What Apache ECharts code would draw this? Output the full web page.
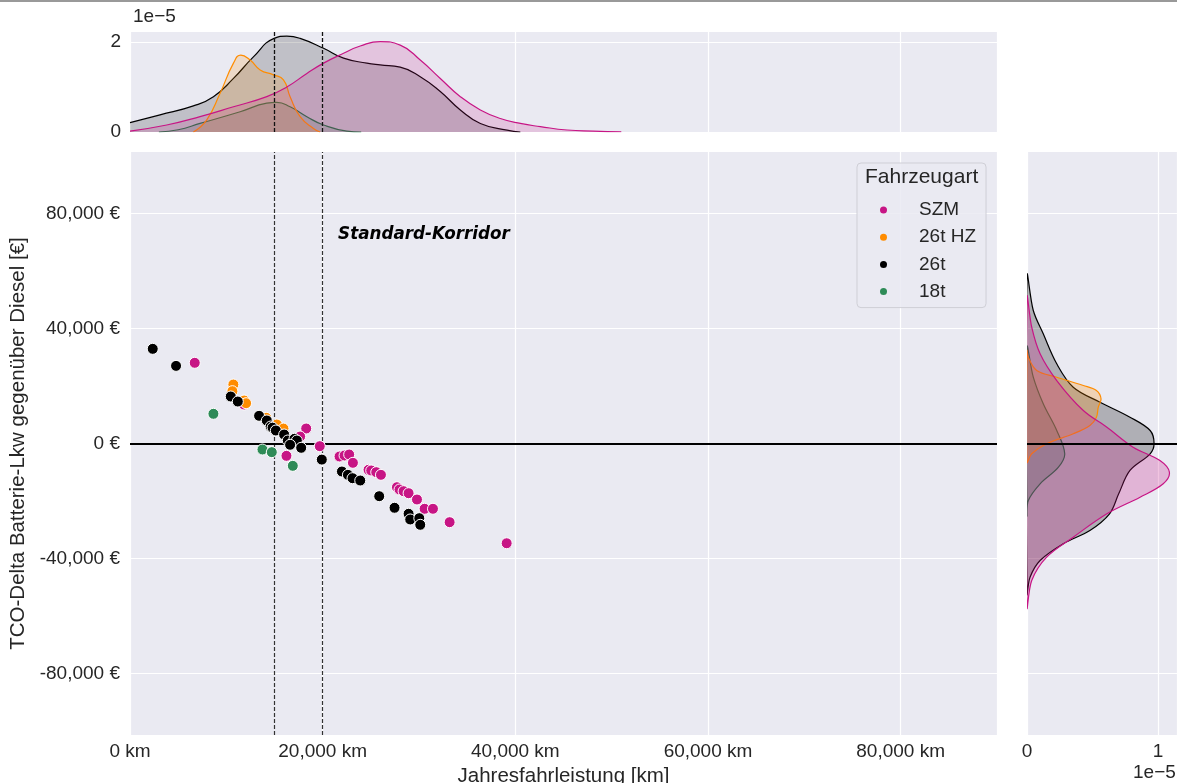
<!DOCTYPE html>
<html><head><meta charset="utf-8">
<script src="https://cdn.jsdelivr.net/npm/echarts@6/dist/echarts.min.js"></script>
<style>html,body{margin:0;padding:0;background:#fff}#c{width:1177px;height:783px}</style>
</head><body><div id="c"></div>
<script>
// ---------- data ----------
const categories = ['SZM', '26t HZ', '26t', '18t'];
const catColors = ['#c71585', '#ff8c00', '#000000', '#2e8b57'];

// scatter points: [Jahresfahrleistung km, TCO-Delta €]
const ptsSZM = [[6720,28070],[11850,13560],[18290,5220],[17660,2430],[16240,-4290],[19700,-930],
  [21750,-4520],[22270,-4170],[22750,-3830],[23140,-6720],[24760,-9150],[25040,-9390],[25560,-9970],
  [26050,-10900],[27710,-15200],[27980,-16000],[28400,-16590],[28920,-17290],[29790,-19480],
  [30580,-22710],[31450,-22710],[33180,-27370],[39100,-34700]];
const ptsHZ = [[10730,20520],[10630,18200],[11850,14960],[12050,14020],[14130,8940],[15240,6600],[15930,5200]];
const pts26 = [[2360,32930],[4780,27000],[10460,16350],[11190,14600],[13400,9630],[14200,8000],[14600,5900],
  [14800,5500],[15140,4520],[16000,3130],[16380,1040],[17070,1620],[17320,1040],[16620,-450],[17770,-1500],
  [19910,-5600],[22000,-9740],[22620,-10900],[23100,-12070],[23900,-12870],[25870,-18330],[27460,-22360],
  [28920,-24450],[29090,-26430],[30030,-25980],[30130,-28280]];
const pts18 = [[8660,10330],[13750,-2090],[14720,-3010],[16900,-7770]];

// top marginal KDE: [km, density in 1e-5]
const kdeTopSZM = [[0,0.02],[3810,0.155],[7270,0.34],[10740,0.56],[14200,0.785],[16280,1.0],[18360,1.3],
  [20090,1.53],[22170,1.75],[23900,1.91],[25970,2.01],[28050,1.93],[30130,1.6],[32210,1.19],[34290,0.785],
  [36370,0.49],[38440,0.30],[40520,0.19],[42600,0.12],[45370,0.044],[48100,0.02],[51000,0.005]];
const kdeTopHZ = [[6580,0],[7970,0.27],[9350,0.86],[10740,1.53],[11500,1.71],[12470,1.6],[13510,1.38],
  [14890,1.27],[15930,1.16],[16620,0.785],[17660,0.34],[19040,0.08],[19740,0]];
const kdeTop26 = [[0,0.21],[3120,0.38],[6580,0.58],[8660,0.785],[10740,1.19],[12810,1.67],[14960,2.08],
  [16280,2.13],[17660,2.08],[20090,1.86],[22170,1.64],[24590,1.53],[25970,1.49],[28050,1.44],[30130,1.23],
  [32210,0.90],[34290,0.49],[36370,0.19],[39140,0.04],[40520,0]];
const kdeTop18 = [[3000,0],[5000,0.05],[7270,0.19],[11430,0.45],[14200,0.64],[15240,0.66],[16620,0.56],
  [18360,0.34],[20090,0.155],[22510,0.02],[24000,0]];

// right marginal KDE: [density in 1e-5, €]
const kdeRightSZM = [[0,50900],[0.036,40450],[0.10,31200],[0.227,21910],[0.43,11480],[0.61,5670],[0.81,-1280],
  [1.015,-5910],[1.087,-9970],[1.04,-14020],[0.863,-18680],[0.61,-24450],[0.353,-32590],[0.15,-39550],
  [0.036,-47650],[0,-56930]];
const kdeRightHZ = [[0,32350],[0.01,30010],[0.074,25390],[0.227,23060],[0.43,20170],[0.53,18430],[0.565,15540],
  [0.544,12630],[0.53,9150],[0.48,6260],[0.353,3370],[0.15,-100],[0.036,-3580],[0,-6490]];
const kdeRight26 = [[0,58430],[0.048,46260],[0.124,38150],[0.227,27720],[0.353,19580],[0.557,14370],[0.786,9150],
  [0.94,4520],[0.97,-100],[0.94,-3580],[0.786,-9390],[0.70,-17500],[0.63,-24450],[0.48,-30260],[0.277,-34880],
  [0.10,-40690],[0.023,-46500],[0,-52300]];
const kdeRight18 = [[0,33490],[0.048,23060],[0.124,13810],[0.227,4520],[0.288,-3580],[0.24,-8240],[0.10,-14020],
  [0.01,-19820],[0,-25000]];

const xTicks = [0, 20000, 40000, 60000, 80000];
const yTicks = [-80000, -40000, 0, 40000, 80000];
const corridor = [15000, 20000];
const annotation = {text: 'Standard-Korridor', at: [21600, 72500]};

// ---------- chart ----------
const FONT = '"Liberation Sans", Arial, sans-serif';
const TXT = '#262626';
const BG = '#eaeaf2';
function rgba(hex, a) {
  const n = parseInt(hex.slice(1), 16);
  return 'rgba(' + ((n >> 16) & 255) + ',' + ((n >> 8) & 255) + ',' + (n & 255) + ',' + a + ')';
}
const fmtNum = v => (v < 0 ? '-' : '') + Math.abs(v).toLocaleString('en-US');

const scatterSets = [ptsSZM, ptsHZ, pts26, pts18];
const topSets = [kdeTopSZM, kdeTopHZ, kdeTop26, kdeTop18];
const rightSets = [kdeRightSZM, kdeRightHZ, kdeRight26, kdeRight18];

const series = [];
// main scatter (draw order: SZM, 18t, 26t HZ, 26t)
[0, 3, 1, 2].forEach(i => {
  series.push({
    type: 'scatter', name: categories[i], xAxisIndex: 0, yAxisIndex: 0,
    data: scatterSets[i], symbolSize: 11, z: 3,
    itemStyle: {color: catColors[i], borderColor: '#ffffff', borderWidth: 1, opacity: 1}
  });
});
// reference lines in main plot
series.push({
  type: 'scatter', name: 'refMain', xAxisIndex: 0, yAxisIndex: 0, data: [], silent: true,
  markLine: {
    symbol: 'none', silent: true, z: 1, animation: false, label: {show: false},
    data: [
      {xAxis: corridor[0], lineStyle: {color: '#333', width: 1.2, type: [4, 2]}},
      {xAxis: corridor[1], lineStyle: {color: '#333', width: 1.2, type: [4, 2]}},
      {yAxis: 0, lineStyle: {color: '#000', width: 2, type: 'solid'}}
    ]
  },
  markPoint: {
    symbol: 'circle', symbolSize: 0, silent: true, animation: false,
    data: [{coord: annotation.at, value: annotation.text}],
    label: {show: true, position: 'right', distance: 0, formatter: annotation.text,
      fontFamily: '"DejaVu Sans", sans-serif', fontWeight: 'bold', fontStyle: 'italic', fontSize: 16.8, color: '#000'}
  }
});
// top marginal KDEs (layer order: 18t, 26t, 26t HZ, SZM), strictly stacked
[3, 2, 1, 0].forEach((i, k) => {
  series.push({
    type: 'line', name: 'kdeTop-' + categories[i], xAxisIndex: 1, yAxisIndex: 1,
    data: topSets[i], smooth: 0.5, symbol: 'none', silent: true, z: 2 + k,
    lineStyle: {color: catColors[i], width: 1.2},
    areaStyle: {color: rgba(catColors[i], 0.25), origin: 'start'}
  });
});
series.push({
  type: 'scatter', name: 'refTop', xAxisIndex: 1, yAxisIndex: 1, data: [], silent: true,
  markLine: {
    symbol: 'none', silent: true, z: 10, animation: false, label: {show: false},
    data: [
      {xAxis: corridor[0], lineStyle: {color: '#111', width: 1.3, type: [4, 2]}},
      {xAxis: corridor[1], lineStyle: {color: '#111', width: 1.3, type: [4, 2]}}
    ]
  }
});
// right marginal KDEs
[3, 2, 1, 0].forEach((i, k) => {
  const pts = rightSets[i];
  series.push({
    type: 'custom', name: 'kdeRight-' + categories[i], xAxisIndex: 2, yAxisIndex: 2,
    data: pts, encode: {x: 0, y: 1}, clip: true, silent: true, z: 2 + k,
    renderItem: function (params, api) {
      if (params.dataIndex !== 0) return null;
      const p = pts.map(v => api.coord(v));
      return {
        type: 'polygon', shape: {points: p, smooth: 0.35},
        style: {fill: rgba(catColors[i], 0.25), stroke: catColors[i], lineWidth: 1.2}
      };
    }
  });
});
series.push({
  type: 'scatter', name: 'refRight', xAxisIndex: 2, yAxisIndex: 2, data: [], silent: true,
  markLine: {
    symbol: 'none', silent: true, z: 10, animation: false, label: {show: false},
    data: [{yAxis: 0, lineStyle: {color: '#000', width: 2, type: 'solid'}}]
  }
});

const splitW = {show: true, lineStyle: {color: '#ffffff', width: 1.2}};
const lbl = {color: TXT, fontFamily: FONT, fontSize: 19};

const option = {
  animation: false,
  backgroundColor: '#ffffff',
  grid: [
    {left: 130, top: 152, width: 867, height: 583, show: true, backgroundColor: BG, borderWidth: 0, outerBoundsMode: 'none'},
    {left: 130, top: 31, width: 867, height: 101, show: true, backgroundColor: BG, borderWidth: 0, outerBoundsMode: 'none'},
    {left: 1027, top: 152, width: 150, height: 583, show: true, backgroundColor: BG, borderWidth: 0, outerBoundsMode: 'none'}
  ],
  xAxis: [
    {type: 'value', gridIndex: 0, min: 0, max: 90000, interval: 20000,
      axisLine: {show: false}, axisTick: {show: false}, splitLine: splitW,
      axisLabel: Object.assign({margin: 7, showMaxLabel: false, formatter: v => fmtNum(v) + ' km'}, lbl),
      name: 'Jahresfahrleistung [km]', nameLocation: 'middle', nameGap: 27,
      nameTextStyle: {color: TXT, fontFamily: FONT, fontSize: 20.5}},
    {type: 'value', gridIndex: 1, min: 0, max: 90000, interval: 20000,
      axisLine: {show: false}, axisTick: {show: false}, splitLine: splitW, axisLabel: {show: false}},
    {type: 'value', gridIndex: 2, min: 0, max: 1.145, interval: 1,
      axisLine: {show: false}, axisTick: {show: false}, splitLine: splitW,
      axisLabel: Object.assign({margin: 7, showMaxLabel: false, formatter: v => String(Math.round(v))}, lbl)}
  ],
  yAxis: [
    {type: 'value', gridIndex: 0, min: -101400, max: 101400,
      axisLine: {show: false}, axisTick: {show: false, customValues: yTicks}, splitLine: splitW,
      axisLabel: Object.assign({margin: 10, customValues: yTicks, formatter: v => fmtNum(v) + ' €'}, lbl),
      name: 'TCO-Delta Batterie-Lkw gegenüber Diesel [€]', nameLocation: 'middle', nameGap: 100,
      nameTextStyle: {color: TXT, fontFamily: FONT, fontSize: 20.5}},
    {type: 'value', gridIndex: 1, min: 0, max: 2.244, interval: 2,
      axisLine: {show: false}, axisTick: {show: false}, splitLine: splitW,
      axisLabel: Object.assign({margin: 9, showMaxLabel: false, formatter: v => String(Math.round(v))}, lbl)},
    {type: 'value', gridIndex: 2, min: -101400, max: 101400,
      axisLine: {show: false}, axisTick: {show: false, customValues: yTicks}, splitLine: splitW,
      axisLabel: {show: false, customValues: yTicks}}
  ],
  legend: {
    data: categories, orient: 'vertical', left: 857, top: 163,
    padding: [37, 10, 6, 23], itemGap: 7.2, itemWidth: 7, itemHeight: 7, icon: 'circle',
    selectedMode: false,
    backgroundColor: 'rgba(234,234,242,0.85)', borderColor: '#cfcfd6', borderWidth: 1, borderRadius: 4,
    itemStyle: {borderWidth: 0},
    textStyle: {color: TXT, fontFamily: FONT, fontSize: 19, lineHeight: 20, padding: [0, 0, 0, 27]}
  },
  graphic: [
    {type: 'rect', left: 0, top: 0, shape: {width: 1177, height: 2}, style: {fill: '#999999'}, z: 100},
    {type: 'text', left: 865, top: 167, z: 100,
      style: {text: 'Fahrzeugart', fill: TXT, font: '21px "Liberation Sans", Arial, sans-serif'}},
    {type: 'text', left: 133, top: 7, z: 100,
      style: {text: '1e\u22125', fill: TXT, font: '19px "Liberation Sans", Arial, sans-serif'}},
    {type: 'text', left: 1133, top: 763, z: 100,
      style: {text: '1e\u22125', fill: TXT, font: '19px "Liberation Sans", Arial, sans-serif'}}
  ],
  series: series
};

const chart = echarts.init(document.getElementById('c'), null, {renderer: 'canvas', width: 1177, height: 783});
chart.setOption(option);
</script>
</body></html>
